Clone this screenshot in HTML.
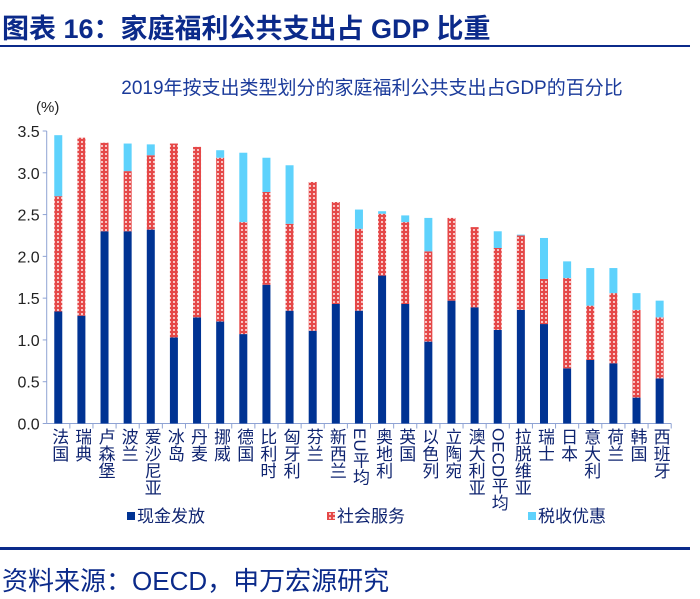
<!DOCTYPE html>
<html><head><meta charset="utf-8">
<style>
body{margin:0;width:700px;height:599px;background:#fff;overflow:hidden;font-family:"Liberation Sans","Noto Sans CJK SC",sans-serif;}
#title{position:absolute;left:2px;top:7px;font-size:27px;font-weight:bold;color:#0b2a8a;letter-spacing:0px;white-space:nowrap;}
#tline{position:absolute;left:0;top:45px;width:690px;height:2px;background:#0b2a8a;}
#bline{position:absolute;left:0;top:547px;width:690px;height:3px;background:#0b2a8a;}
#src{position:absolute;left:2px;top:561px;font-size:26px;color:#0b2a8a;white-space:nowrap;}
svg{position:absolute;left:0;top:0;}
</style></head><body>
<div id="title">图表 16：家庭福利公共支出占 GDP 比重</div>
<div id="tline"></div>
<svg id="chart" width="700" height="599">
<defs>
<pattern id="dots" width="4" height="4" patternUnits="userSpaceOnUse">
<rect width="4" height="4" fill="#e54848"/><rect x="1" y="1" width="2" height="2" fill="#f7c4c4"/>
</pattern>
</defs>
</svg>
<div id="bline"></div>
<div id="src">资料来源：OECD，申万宏源研究</div>
<script>
const categories=["法国","瑞典","卢森堡","波兰","爱沙尼亚","冰岛","丹麦","挪威","德国","比利时","匈牙利","芬兰","新西兰","EU平均","奥地利","英国","以色列","立陶宛","澳大利亚","OECD平均","拉脱维亚","瑞士","日本","意大利","荷兰","韩国","西班牙"];
const cashValues=[1.34,1.29,2.30,2.30,2.32,1.03,1.27,1.22,1.07,1.66,1.35,1.11,1.43,1.35,1.77,1.43,0.98,1.47,1.39,1.12,1.36,1.19,0.66,0.76,0.72,0.31,0.54];
const serviceValues=[1.38,2.13,1.06,0.72,0.89,2.32,2.04,1.96,1.34,1.11,1.04,1.78,1.22,0.98,0.74,0.98,1.08,0.99,0.96,0.98,0.89,0.54,1.08,0.65,0.84,1.05,0.73];
const taxValues=[0.73,0,0,0.33,0.13,0,0,0.09,0.83,0.41,0.70,0,0,0.23,0.03,0.08,0.40,0,0,0.20,0.01,0.49,0.20,0.45,0.30,0.20,0.20];
const yTicks=[0,0.5,1,1.5,2,2.5,3,3.5];
const yTickLabels=["0.0","0.5","1.0","1.5","2.0","2.5","3.0","3.5"];
const legendLabels=["现金发放","社会服务","税收优惠"];

const NS="http://www.w3.org/2000/svg";
const svg=document.getElementById('chart');
const X0=46.7,STEP=23.13,Y0=423.5,YTOP=131,YMAX=3.5,BW=8;
function y(v){return Y0-(v/YMAX)*(Y0-YTOP);}
function xc(i){return X0+STEP*(i+0.5);}
function mk(tag,attrs){const e=document.createElementNS(NS,tag);for(const k in attrs)e.setAttribute(k,attrs[k]);svg.appendChild(e);return e;}

const sub=mk('text',{x:372,y:94,'text-anchor':'middle','font-size':19,fill:'#1a3a9a'});
sub.textContent="2019年按支出类型划分的家庭福利公共支出占GDP的百分比";


const unit=mk('text',{x:36,y:112,'font-size':15,fill:'#222'});
unit.textContent="(%)";



const ya=mk('line',{x1:X0,y1:YTOP,x2:X0,y2:Y0,stroke:'#8fa3d4','stroke-width':1});


yTicks.forEach((t,i)=>{
  const tk=mk('line',{x1:X0-4,y1:y(t),x2:X0,y2:y(t),stroke:'#8fa3d4'});
  
  
  const tl=mk('text',{x:X0-7,y:y(t)+6,'text-anchor':'end','font-size':16,fill:'#222'});
  tl.textContent=yTickLabels[i];
  
  
});
const xEnd=X0+STEP*categories.length;
const xa=mk('line',{x1:X0,y1:Y0,x2:xEnd,y2:Y0,stroke:'#8fa3d4','stroke-width':1});



categories.forEach((c,i)=>{
  const tk=mk('line',{x1:X0+STEP*(i+1),y1:Y0,x2:X0+STEP*(i+1),y2:Y0+5,stroke:'#8fa3d4'});
  
  
  const cx=xc(i);
  const b=cashValues[i],s=serviceValues[i],t=taxValues[i];
  const r1=mk('rect',{x:cx-BW/2,y:y(b),width:BW,height:Y0-y(b),fill:'#003393'});
  
  
  const r2=mk('rect',{x:cx-BW/2,y:y(b+s),width:BW,height:y(b)-y(b+s),fill:'url(#dots)'});
  
  
  if(t>0){
    const r3=mk('rect',{x:cx-BW/2,y:y(b+s+t),width:BW,height:y(b+s)-y(b+s+t),fill:'#5ed2fc'});
    
    
  }
  const fo=mk('foreignObject',{x:cx-10,y:428,width:20,height:140});
  
  
  const d=document.createElement('div');
  d.style.cssText='writing-mode:vertical-rl;text-orientation:mixed;font-size:17px;line-height:20px;color:#0f2470;font-family:"Liberation Sans","Noto Sans CJK SC",sans-serif;margin:0 auto;';
  d.textContent=c;
  fo.appendChild(d);
});

const lx=[127,327,528],lf=['#003393','url(#dots)','#5ed2fc'];
legendLabels.forEach((l,i)=>{
  const sq=mk('rect',{x:lx[i],y:512,width:8,height:8,fill:lf[i]});
  
  
  const tx=mk('text',{x:lx[i]+10,y:522,'font-size':17,fill:'#0f2470'});
  tx.textContent=l;
  
  
});
</script>
</body></html>
